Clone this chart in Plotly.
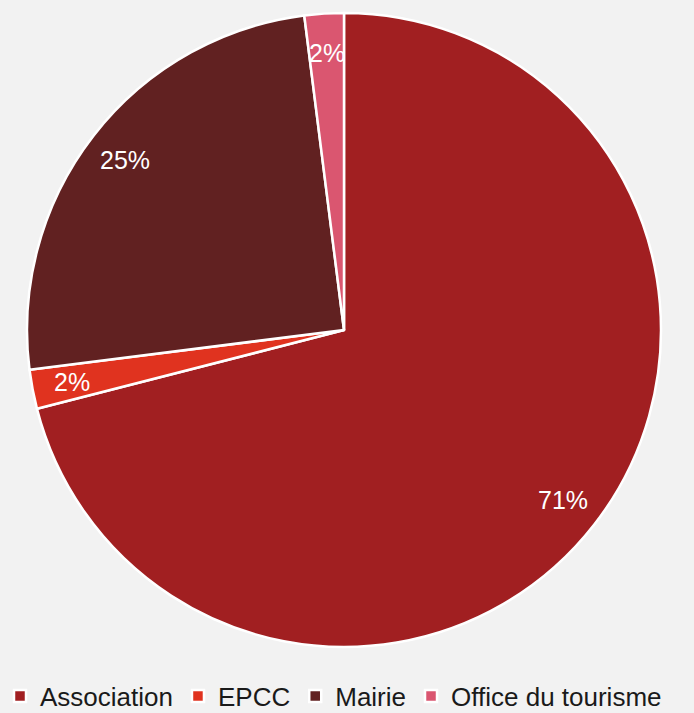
import math
import plotly.graph_objects as go

# Share of each structure type (percent)
categories = ["Association", "EPCC", "Mairie", "Office du tourisme"]
shares = [71, 2, 25, 2]
colors = ["#a11f21", "#e0331f", "#612121", "#da5670"]

W, H = 694, 713

fig = go.Figure(
    go.Pie(
        labels=categories,
        values=shares,
        sort=False,
        direction="clockwise",
        rotation=0,
        marker=dict(colors=colors, line=dict(color="white", width=2.5)),
        textinfo="none",
        hoverinfo="label+percent",
        domain=dict(x=[27 / W, 661 / W], y=[66 / H, 700 / H]),
    )
)

# Percentage labels placed along each slice's mid-angle
cx, cy, r = 344, 330, 317
total = sum(shares)
annotations = []
acc = 0.0
for v in shares:
    p = v / total * 100
    mid = (acc + p / 2) / 100 * 2 * math.pi
    acc += p
    px = cx + 0.875 * r * math.sin(mid)
    py = cy - 0.875 * r * math.cos(mid)
    annotations.append(
        dict(
            x=px / W, y=1 - py / H, xref="paper", yref="paper",
            xanchor="center", yanchor="middle",
            text=f"{round(p)}%", showarrow=False,
            font=dict(color="white", size=25, family="Liberation Sans, Arial"),
        )
    )

fig.update_layout(
    width=W,
    height=H,
    margin=dict(l=0, r=0, t=0, b=0, autoexpand=False),
    paper_bgcolor="#f2f2f2",
    plot_bgcolor="#f2f2f2",
    font=dict(family="Liberation Sans, Arial", size=26, color="#1a1a1a"),
    showlegend=True,
    legend=dict(
        orientation="h",
        x=0, xanchor="left",
        y=(H - 696) / H, yanchor="middle",
        font=dict(size=26),
        itemwidth=30,
        bgcolor="rgba(0,0,0,0)",
    ),
    annotations=annotations,
)

fig.write_html("out.html")
